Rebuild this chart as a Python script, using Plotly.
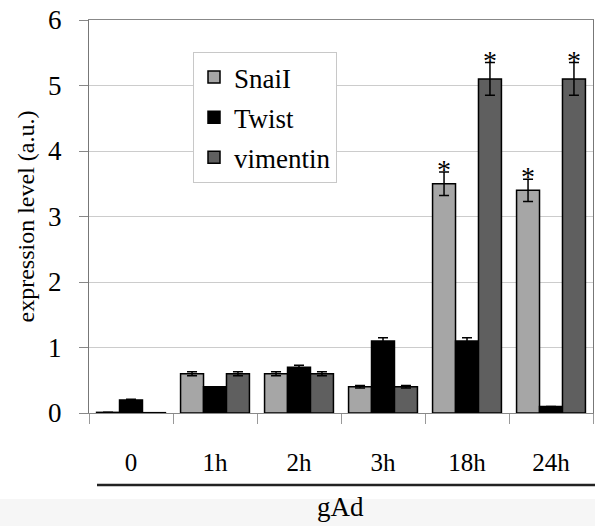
import plotly.graph_objects as go

categories = ["0", "1h", "2h", "3h", "18h", "24h"]
snail = [0.01, 0.6, 0.6, 0.4, 3.5, 3.4]
snail_err = [0.0, 0.03, 0.03, 0.02, 0.18, 0.17]
twist = [0.2, 0.4, 0.7, 1.1, 1.1, 0.1]
twist_err = [0.01, 0.0, 0.03, 0.05, 0.05, 0.0]
vimentin = [0.005, 0.6, 0.6, 0.4, 5.1, 5.1]
vimentin_err = [0.0, 0.03, 0.03, 0.02, 0.25, 0.25]
y_ticks = [0, 1, 2, 3, 4, 5, 6]

FONT = "Liberation Serif"
W, H = 595, 526
ML, MR, MT, MB = 89, 2, 20, 113
BARGAP = 0.18

fig = go.Figure()
series = [
    ("SnaiI", snail, snail_err, "#a6a6a6"),
    ("Twist", twist, twist_err, "#000000"),
    ("vimentin", vimentin, vimentin_err, "#5f5f5f"),
]
for i, (name, vals, errs, col) in enumerate(series):
    fig.add_trace(go.Bar(
        name=name, x=categories, y=vals,
        marker=dict(color=col, line=dict(color="#000000", width=1.5)),
        error_y=dict(type="data", array=errs, visible=True, color="#000000",
                     thickness=1.5, width=5),
        legendgroup=name,
    ))

# significance asterisks (18h, 24h for SnaiI and vimentin)
plot_w = W - ML - MR
plot_h = H - MT - MB
bar_w = plot_w / len(categories) * (1 - BARGAP) / 3
for k, (vals, errs) in enumerate([(snail, snail_err), (vimentin, vimentin_err)]):
    shift = -bar_w if k == 0 else bar_w
    for c in ["18h", "24h"]:
        j = categories.index(c)
        fig.add_annotation(x=c, y=vals[j] + errs[j], xref="x", yref="y",
                           text="*", showarrow=False, xshift=shift, yshift=-15,
                           yanchor="bottom", font=dict(family=FONT, size=28, color="#000"))

# bottom band, underline and group label
fig.add_shape(type="rect", xref="paper", yref="paper",
              x0=-ML / plot_w, x1=1 + MR / plot_w,
              y0=-(499 - (H - MB)) / plot_h,
              y1=-(MB) / plot_h,
              fillcolor="#f6f6f6", line=dict(width=0), layer="below")
fig.add_shape(type="line", xref="paper", yref="paper",
              x0=(97 - ML) / plot_w, x1=1 + MR / plot_w,
              y0=-(485 - (H - MB)) / plot_h, y1=-(485 - (H - MB)) / plot_h,
              line=dict(color="#222222", width=2.5))
fig.add_annotation(text="gAd", xref="paper", yref="paper",
                   x=(340 - ML) / plot_w, y=-(507 - (H - MB)) / plot_h,
                   showarrow=False, yanchor="middle",
                   font=dict(family=FONT, size=27, color="#000"))

fig.update_layout(
    width=W, height=H,
    margin=dict(l=ML, r=MR, t=MT, b=MB),
    paper_bgcolor="white", plot_bgcolor="white",
    barmode="group", bargap=BARGAP, bargroupgap=0,
    font=dict(family=FONT, color="#000"),
    legend=dict(x=(193 - ML) / plot_w, y=1 - (52 - MT) / plot_h,
                xanchor="left", yanchor="top",
                bgcolor="white", bordercolor="#c8c8c8", borderwidth=1,
                font=dict(family=FONT, size=27, color="#000"),
                traceorder="grouped", tracegroupgap=2),
    xaxis=dict(
        type="category", tickson="boundaries", ticks="outside", ticklen=10,
        tickcolor="#999999", showline=True, linecolor="#888888", linewidth=1,
        mirror=True, showgrid=False, automargin=False,
        tickfont=dict(family=FONT, size=25, color="#000"),
        ticklabelstandoff=27,
    ),
    yaxis=dict(
        range=[0, 6], tickvals=y_ticks, ticks="outside", ticklen=9,
        tickcolor="#888888", showline=True, linecolor="#777777", linewidth=1,
        mirror=True, showgrid=True, gridcolor="#cccccc", gridwidth=1,
        zeroline=False, automargin=False,
        tickfont=dict(family=FONT, size=27, color="#000"),
        ticklabelstandoff=12,
        title=dict(text="expression level (a.u.)", standoff=6,
                   font=dict(family=FONT, size=24, color="#000")),
    ),
)

fig.write_html("out.html", config={"displayModeBar": False},
               post_script="document.body.style.margin='0';")
